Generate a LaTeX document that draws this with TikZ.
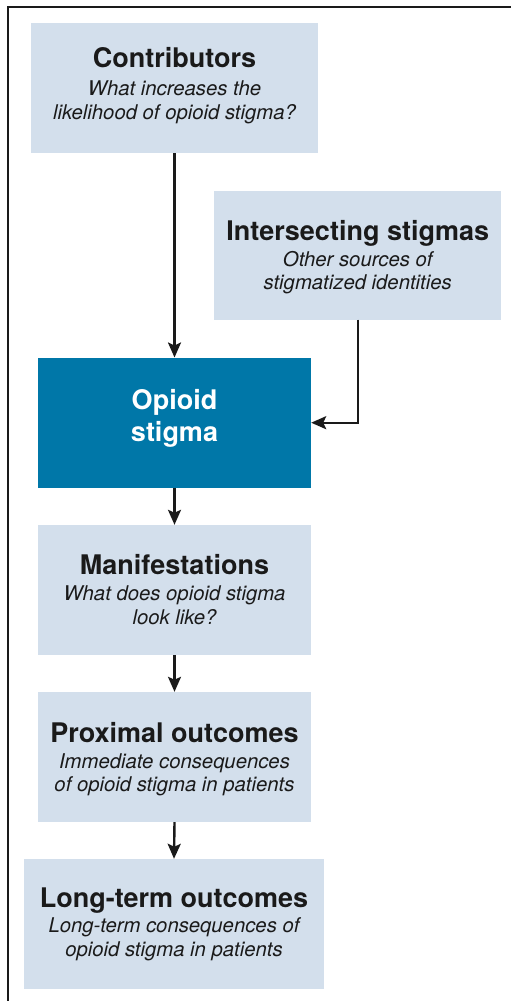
\documentclass[tikz,border=0pt]{standalone}
\usepackage{fontspec}
\setmainfont{TeX Gyre Heros}
\usetikzlibrary{arrows.meta}
\definecolor{lightbox}{HTML}{D3DFEC}
\definecolor{darkbox}{HTML}{0077A8}
\definecolor{ink}{HTML}{1A1A1A}
\tikzset{
  box/.style={fill=lightbox, draw=none, inner sep=0pt, minimum height=130pt},
  darkbx/.style={fill=darkbox, draw=none, inner sep=0pt, minimum height=130pt},
  ttl/.style={anchor=base, inner sep=0pt, text=ink, font=\fontsize{27}{30}\selectfont\bfseries},
  wttl/.style={anchor=base, inner sep=0pt, text=white, font=\fontsize{27}{30}\selectfont\bfseries},
  sub/.style={anchor=base, inner sep=0pt, text=ink, font=\fontsize{20.3}{23}\selectfont\itshape},
  conn/.style={draw=ink, line width=2.4pt, -{Stealth[length=15pt,width=13pt,inset=3pt]}},
}
\begin{document}
\begin{tikzpicture}[x=1pt,y=-1pt]
\useasboundingbox (0,0) rectangle (511,1001);
\draw[draw=ink, line width=2.3pt] (8,1002) -- (8,7) -- (512,7);

\node[box, minimum width=287pt] (contrib) at (174.5,88) {};
\node[box, minimum width=287pt, minimum height=129pt] (inter) at (357.75,255) {};
\node[darkbx, minimum width=273pt] (opioid) at (174.5,422.7) {};
\node[box, minimum width=273pt] (manif) at (174.5,590) {};
\node[box, minimum width=273pt] (prox) at (174.5,757) {};
\node[box, minimum width=300pt] (longt) at (174,924) {};

\node[ttl] (contribT) at ([yshift=-45pt]contrib.north) {Contributors};
\node[sub] (contribS1) at ([yshift=-73pt]contrib.north) {What increases the};
\node[sub] (contribS2) at ([yshift=-96.5pt]contrib.north) {likelihood of opioid stigma?};

\node[ttl] (interT) at ([yshift=-50.5pt]inter.north) {Intersecting stigmas};
\node[sub] (interS1) at ([yshift=-76.5pt]inter.north) {Other sources of};
\node[sub] (interS2) at ([yshift=-99.5pt]inter.north) {stigmatized identities};

\node[wttl] (opioidT1) at ([yshift=13.5pt]opioid.center) {Opioid};
\node[wttl] (opioidT2) at ([yshift=-19pt]opioid.center) {stigma};

\node[ttl] (manifT) at ([yshift=-50pt]manif.north) {Manifestations};
\node[sub] (manifS1) at ([yshift=-76pt]manif.north) {What does opioid stigma};
\node[sub] (manifS2) at ([yshift=-99.5pt]manif.north) {look like?};

\node[ttl] (proxT) at ([yshift=-50.5pt]prox.north) {Proximal outcomes};
\node[sub] (proxS1) at ([yshift=-76.5pt]prox.north) {Immediate consequences};
\node[sub] (proxS2) at ([yshift=-99.5pt]prox.north) {of opioid stigma in patients};

\node[ttl] (longtT) at ([yshift=-48.5pt]longt.north) {Long-term outcomes};
\node[sub] (longtS1) at ([yshift=-73.5pt]longt.north) {Long-term consequences of};
\node[sub] (longtS2) at ([yshift=-97.5pt]longt.north) {opioid stigma in patients};

\draw[conn] (contrib.south) -- (opioid.north);
\draw[conn] (inter.south) |- (opioid.east);
\draw[conn] (opioid.south) -- (manif.north);
\draw[conn] (manif.south) -- (prox.north);
\draw[conn] (prox.south) -- (longt.north);
\end{tikzpicture}
\end{document}
